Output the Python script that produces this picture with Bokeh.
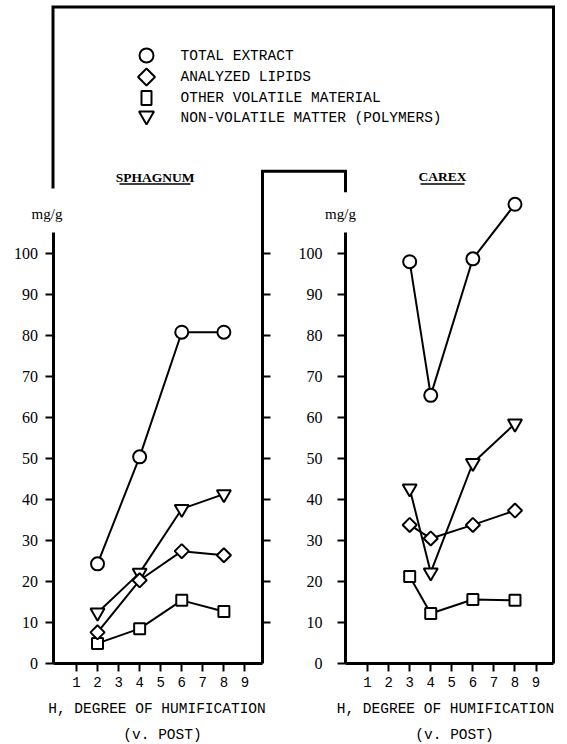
import numpy as np
from bokeh.plotting import figure
from bokeh.models import Range1d, LinearAxis, FixedTicker
from bokeh.core.properties import value
from bokeh.embed import file_html
from bokeh.resources import INLINE

# ---------------- data ----------------
sph_x = [2, 4, 6, 8]
sph_total = [24.3, 50.4, 80.8, 80.8]
sph_lipids = [7.6, 20.3, 27.4, 26.4]
sph_volatile = [4.9, 8.5, 15.4, 12.7]
sph_polymers = [12.4, 22.1, 37.7, 41.3]

car_x = [3, 4, 6, 8]
car_total = [98.0, 65.4, 98.7, 112.0]
car_lipids = [33.8, 30.5, 33.8, 37.3]
car_volatile = [21.2, 12.2, 15.6, 15.4]
car_polymers = [42.7, 22.2, 48.9, 58.5]

series_names = ["TOTAL EXTRACT", "ANALYZED LIPIDS", "OTHER VOLATILE MATERIAL",
                "NON-VOLATILE MATTER (POLYMERS)"]
y_ticks = [0, 10, 20, 30, 40, 50, 60, 70, 80, 90, 100]
x_ticks = [1, 2, 3, 4, 5, 6, 7, 8, 9]
panel_titles = ["SPHAGNUM", "CAREX"]
x_title = "H, DEGREE OF HUMIFICATION"
x_subtitle = "(v. POST)"
y_unit = "mg/g"

# ---------------- layout helpers (page pixel -> data units) ----------------
PX, PY = 21.06, 4.1          # px per x unit / per y unit
SX0, CX0, Y0 = 54.9, 346.0, 663.0
W, H = 565, 742
OFF = 0                      # canvas origin on the page


def xs_(px):
    return (px - SX0) / PX


def xc_(px):
    return (px - CX0) / PX


def yv(py):
    return (Y0 - py) / PY


p = figure(width=W, height=H,
           x_range=Range1d(xs_(OFF), xs_(OFF + W)),
           y_range=Range1d(yv(OFF + H), yv(OFF)),
           min_border=0, x_axis_location=None, y_axis_location=None,
           toolbar_location=None, output_backend="svg",
           outline_line_color=None)
p.extra_x_ranges = {"carex": Range1d(xc_(OFF), xc_(OFF + W))}
p.grid.visible = False


def style_axis(ax, font, size, standoff):
    ax.axis_line_width = 3
    ax.axis_line_color = "black"
    ax.major_tick_line_width = 2
    ax.major_tick_line_color = "black"
    ax.major_tick_out = 8
    ax.major_tick_in = 0
    ax.minor_tick_out = 0
    ax.minor_tick_in = 0
    ax.major_label_text_font = font
    ax.major_label_text_font_size = size
    ax.major_label_text_color = "black"
    ax.major_label_standoff = standoff


# y axes
yl = LinearAxis(fixed_location=xs_(52.5), bounds=(0, yv(232)),
                ticker=FixedTicker(ticks=y_ticks))
style_axis(yl, "Liberation Serif", "16px", 7)
p.add_layout(yl, "left")

yr = LinearAxis(fixed_location=xc_(345), bounds=(0, yv(232)),
                ticker=FixedTicker(ticks=y_ticks), x_range_name="carex")
style_axis(yr, "Liberation Serif", "16px", 15)
p.add_layout(yr, "left")

# right border of left panel, ticks outward, no labels
rb = LinearAxis(fixed_location=xs_(262), bounds=(0, yv(170.7)),
                ticker=FixedTicker(ticks=y_ticks[1:]),
                major_label_overrides={t: "" for t in y_ticks[1:]})
style_axis(rb, "Liberation Serif", "16px", 5)
p.add_layout(rb, "right")

# x axes
xl = LinearAxis(fixed_location=0, bounds=(xs_(52.5), xs_(262)),
                ticker=FixedTicker(ticks=x_ticks))
style_axis(xl, "Liberation Mono", "14px", 5)
p.add_layout(xl, "below")

xr = LinearAxis(fixed_location=0, bounds=(xc_(345), xc_(553)),
                ticker=FixedTicker(ticks=x_ticks), x_range_name="carex")
style_axis(xr, "Liberation Mono", "14px", 5)
p.add_layout(xr, "below")

# frame lines
p.line([xs_(52.5), xs_(52.5), xs_(553), xs_(553)],
       [yv(188), yv(6.5), yv(6.5), 0], line_width=3, line_color="black",
       line_join="miter")
p.line([xs_(262), xs_(262), xs_(345), xs_(345)],
       [yv(180), yv(170.7), yv(170.7), yv(191.7)], line_width=3,
       line_color="black", line_join="miter")

# ---------------- data series ----------------
mk = dict(fill_color="white", line_color="black", line_width=2)
for xr_name, xv, tot, lip, vol, pol in [
        ("default", sph_x, sph_total, sph_lipids, sph_volatile, sph_polymers),
        ("carex", car_x, car_total, car_lipids, car_volatile, car_polymers)]:
    for ys in (tot, lip, vol, pol):
        p.line(xv, ys, line_width=2, line_color="black", x_range_name=xr_name)
    p.scatter(xv, pol, marker="inverted_triangle", size=14, x_range_name=xr_name, **mk)
    p.scatter(xv, vol, marker="square", size=11, x_range_name=xr_name, **mk)
    p.scatter(xv, lip, marker="square", angle=np.pi / 4, size=10, x_range_name=xr_name, **mk)
    p.scatter(xv, tot, marker="circle", size=13, x_range_name=xr_name, **mk)

# ---------------- legend (manual) ----------------
leg_rows = [55, 76.5, 97.5, 117.5]
lx = xs_(146)
p.scatter([lx], [yv(leg_rows[0])], marker="circle", size=14, **mk)
p.scatter([lx], [yv(leg_rows[1])], marker="square", angle=np.pi / 4, size=12, **mk)
p.rect([lx], [yv(leg_rows[2])], width=10, height=14, width_units="screen",
       height_units="screen", **mk)
p.scatter([lx], [yv(leg_rows[3]) + 0.5], marker="inverted_triangle", size=15, **mk)
p.text([xs_(180)] * 4, [yv(r) for r in leg_rows], text=series_names,
       text_font=value("Liberation Mono"), text_font_size="14.5px",
       text_baseline="middle", text_align="left", text_color="black")

# panel titles with underline
p.text([xs_(154.5), xs_(442)], [yv(176.5), yv(176)], text=panel_titles,
       text_font=value("Liberation Serif"), text_font_size="13.5px",
       text_font_style="bold", text_align="center", text_baseline="middle",
       text_color="black")
p.segment([xs_(119), xs_(420)], [yv(183.5)] * 2, [xs_(190), xs_(464)],
          [yv(183.5)] * 2, line_width=1.5, line_color="black")

# y unit labels
p.text([xs_(46.5), xs_(340)], [yv(213)] * 2, text=[y_unit] * 2,
       text_font=value("Liberation Serif"), text_font_size="15px",
       text_align="center", text_baseline="middle", text_color="black")

# x axis titles
p.text([xs_(156.5), xs_(445)], [yv(708)] * 2, text=[x_title] * 2,
       text_font=value("Liberation Mono"), text_font_size="14.5px",
       text_align="center", text_baseline="middle", text_color="black")
p.text([xs_(162), xs_(454)], [yv(734)] * 2, text=[x_subtitle] * 2,
       text_font=value("Liberation Mono"), text_font_size="14.5px",
       text_align="center", text_baseline="middle", text_color="black")

open("out.html", "w").write(file_html(p, INLINE))
